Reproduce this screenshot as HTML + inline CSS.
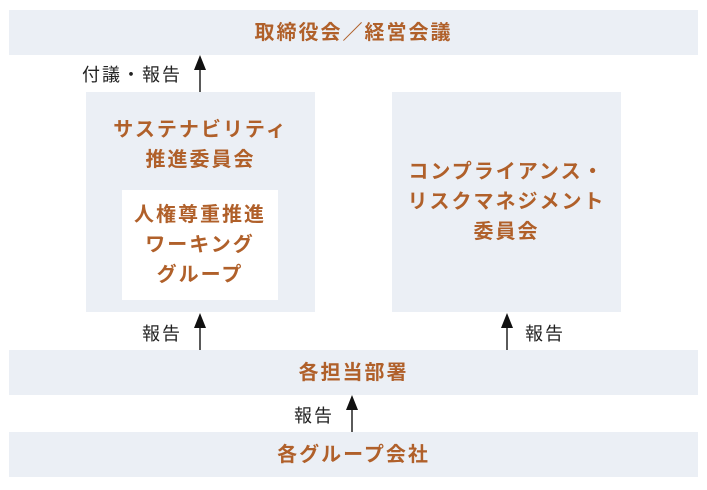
<!DOCTYPE html>
<html><head><meta charset="utf-8"><style>
body{margin:0;width:707px;height:490px;background:#fff;position:relative;overflow:hidden;font-family:"Liberation Sans","Noto Sans CJK JP",sans-serif}
.b{position:absolute;background:#ebeff5;color:#b0602a;font-weight:bold;font-size:20px;display:flex;align-items:center;justify-content:center;text-align:center;line-height:30px;letter-spacing:2px}
.w{background:#fff}
.l{position:absolute;font-size:18px;color:#222;letter-spacing:2px}
</style></head><body>
<div class="b" style="left:9px;top:10px;width:689px;height:45px">取締役会／経営会議</div>
<div class="b" style="left:86px;top:92px;width:229px;height:220px;align-items:flex-start"><div style="margin-top:23px">サステナビリティ<br>推進委員会</div></div>
<div class="b w" style="left:122px;top:190px;width:156px;height:110px">人権尊重推進<br>ワーキング<br>グループ</div>
<div class="b" style="left:392px;top:92px;width:229px;height:220px">コンプライアンス・<br>リスクマネジメント<br>委員会</div>
<div class="b" style="left:9px;top:350px;width:689px;height:45px">各担当部署</div>
<div class="b" style="left:9px;top:432px;width:689px;height:45px">各グループ会社</div>
<div class="l" style="left:82px;top:61px">付議・報告</div>
<div class="l" style="left:142px;top:320px">報告</div>
<div class="l" style="left:525px;top:320px">報告</div>
<div class="l" style="left:294px;top:402px">報告</div>
<svg width="707" height="490" style="position:absolute;left:0;top:0">
<g stroke="#222" stroke-width="1.5"><line x1="200" y1="92" x2="200" y2="68"/><line x1="200" y1="350" x2="200" y2="326"/><line x1="507" y1="350" x2="507" y2="326"/><line x1="352" y1="432" x2="352" y2="408"/></g>
<g fill="#111"><polygon points="200,55 194,70 206,70"/><polygon points="200,313 194,328 206,328"/><polygon points="507,313 501,328 513,328"/><polygon points="352,395 346,410 358,410"/></g>
</svg>
</body></html>
